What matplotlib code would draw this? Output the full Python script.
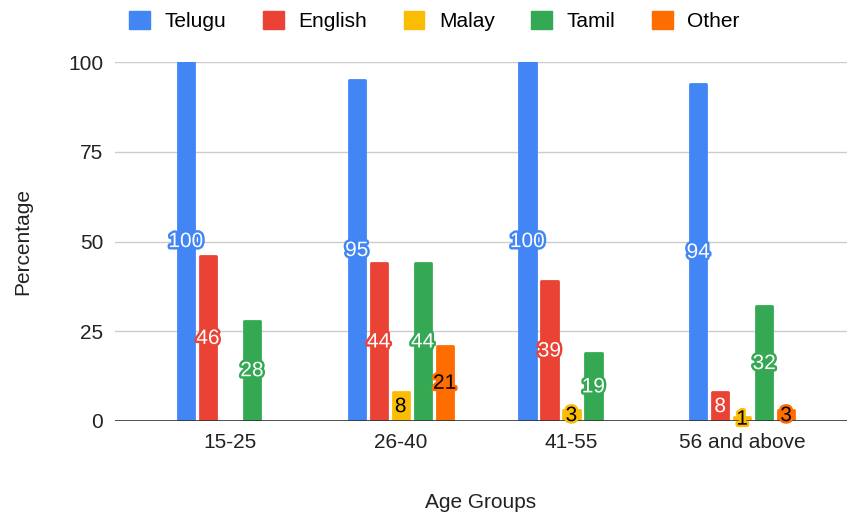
import numpy as np
import matplotlib.pyplot as plt
import matplotlib.patheffects as pe
from matplotlib.patches import Patch

plt.rcParams['font.family'] = ['Liberation Sans', 'DejaVu Sans']

age_groups = ['15-25', '26-40', '41-55', '56 and above']
languages = ['Telugu', 'English', 'Malay', 'Tamil', 'Other']
telugu = [100, 95, 100, 94]
english = [46, 44, 39, 8]
malay = [None, 8, 3, 1]
tamil = [28, 44, 19, 32]
other = [None, 21, None, 3]

series = [telugu, english, malay, tamil, other]
colors = ['#4285F4', '#EA4335', '#FBBC04', '#34A853', '#FF6D01']
text_colors = ['white', 'white', 'black', 'white', 'black']
fs = 15

fig = plt.figure(figsize=(8.47, 5.14), dpi=100)
ax = fig.add_axes([0.1358, 0.181, 0.8642, 0.698])

x = np.arange(len(age_groups))
step = 0.1287
width = 0.095

for i, (vals, col, tcol) in enumerate(zip(series, colors, text_colors)):
    pos = x + (i - 2) * step
    for xp, v in zip(pos, vals):
        if v is None:
            continue
        # thin same-colour edge with round joins gives the soft bar corners
        ax.bar(xp, v, width=width, color=col, edgecolor=col, linewidth=2,
               joinstyle='round', zorder=3)
        t = ax.text(xp, v / 2, str(v), ha='center', va='center',
                    fontsize=fs, color=tcol, zorder=5, clip_on=False)
        t.set_path_effects([pe.withStroke(linewidth=3.5, foreground=col)])

ax.set_xlim(-0.673, 3.614)
ax.set_ylim(0, 100)
ax.set_yticks([0, 25, 50, 75, 100])
ax.set_xticks(x)
ax.set_xticklabels(age_groups)
ax.tick_params(axis='both', length=0, labelsize=fs, colors='#222222')
ax.tick_params(axis='y', pad=8.5)
ax.tick_params(axis='x', pad=9)
ax.grid(axis='y', color='#cccccc', linewidth=1, zorder=0)
for s in ax.spines.values():
    s.set_visible(False)
ax.axhline(0, color='#333333', linewidth=1.2, zorder=4)

ax.set_ylabel('Percentage', fontsize=fs, color='#222222', labelpad=26)
ax.set_xlabel('Age Groups', fontsize=fs, color='#222222', labelpad=29)

handles = [Patch(facecolor=c, edgecolor=c, label=l) for c, l in zip(colors, languages)]
fig.legend(handles=handles, loc='center', bbox_to_anchor=(0.513, 0.959), ncol=5,
           frameon=False, fontsize=fs, handlelength=1.0, handleheight=1.0,
           handletextpad=0.7, columnspacing=1.75, borderpad=0)

fig.savefig('out.png', dpi=100)
